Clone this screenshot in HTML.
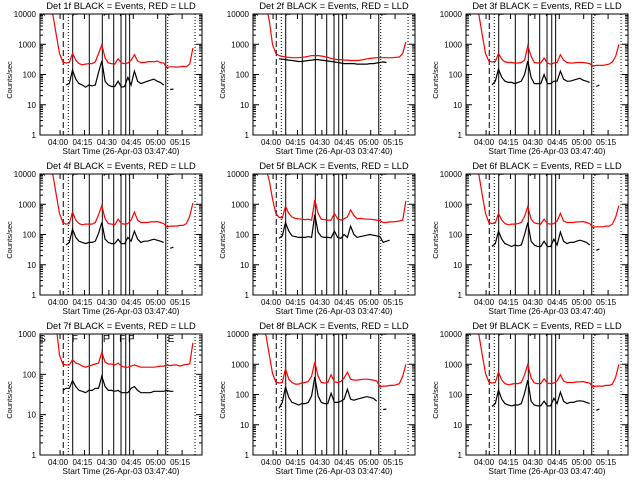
<!DOCTYPE html>
<html><head><meta charset="utf-8">
<style>
html,body{margin:0;padding:0;background:#fff;}
svg{display:block;font-family:"Liberation Sans",sans-serif;}
</style></head>
<body>
<svg id="chart" width="640" height="480" viewBox="0 0 640 480" xmlns="http://www.w3.org/2000/svg"><rect x="0" y="0" width="640" height="480" fill="#fff"/></svg>
<script>
// time samples in minutes after start (03:47:40)
const times = [0,2,4,6,8,10,12,14,16,18,20,22,24,26,28,30,32,34,36,38,40,42,44,46,48,50,52,54,56,58,60,62,64,66,68,70,72,74,76,78,80,82,84,86,88,90,92,94];
const detNames = ["1f","2f","3f","4f","5f","6f","7f","8f","9f"];
const xTickLabels = ["04:00","04:15","04:30","04:45","05:00","05:15"];
const xTickMinutes = [12.33,27.33,42.33,57.33,72.33,87.33];
const yTickLabels5 = ["1","10","100","1000","10000"];
const yTickLabels4 = ["1","10","100","1000"];
const dashedMarks = [14.3];
const dottedMarks = [17.4,78.5,95.3];
const solidMarks = [20.1,30.3,38.3,45.3,49.8,52.7,55.1,77.3];
const flagLetters = ["S","F","F","F","F","E"];
const flagMinutes = [1.5,21.5,40.5,50.5,56,80.5];
const N = null;
const red1 = [20000,20000,20000,15000,9000,2000,500,260,240,250,500,300,230,210,220,230,230,260,500,950,350,240,230,220,330,240,230,240,300,450,280,250,250,260,270,260,280,250,240,170,180,180,175,180,185,180,220,750];
const black1 = [N,N,N,N,N,N,N,N,45,50,140,70,50,45,38,45,42,45,120,280,60,45,40,40,60,38,40,80,45,130,60,50,55,60,65,70,60,55,45,N,32,33,N,N,N,N,N,N];
const red2 = [20000,20000,20000,20000,20000,6000,1000,500,420,400,380,370,360,360,360,370,380,400,420,420,420,410,390,370,340,320,310,310,300,300,290,290,290,300,310,330,340,350,360,360,360,360,360,360,370,380,500,1200];
const black2 = [N,N,N,N,N,N,N,N,330,320,310,300,290,280,270,270,280,290,300,310,310,300,290,280,270,260,250,240,230,230,230,230,220,220,220,220,230,230,240,250,260,250,N,N,N,N,N,N];
const red3 = [20000,20000,20000,15000,9000,2000,500,280,260,270,500,320,260,250,250,240,240,250,300,900,400,250,240,240,350,240,220,240,250,450,300,250,240,240,250,250,250,240,230,190,200,200,200,210,220,260,400,1000];
const black3 = [N,N,N,N,N,N,N,N,45,60,150,80,60,55,55,50,55,60,100,280,80,50,50,50,100,50,50,60,60,130,70,60,60,65,70,75,65,60,55,N,40,45,N,N,N,N,N,N];
const red4 = [20000,20000,20000,15000,9000,2000,500,250,220,230,550,300,230,210,220,220,220,250,450,900,330,230,220,210,320,230,220,230,300,550,300,250,250,250,260,260,270,250,230,180,190,190,190,200,200,230,400,1100];
const black4 = [N,N,N,N,N,N,N,N,45,55,150,80,60,55,50,55,55,60,110,250,70,55,50,50,70,50,50,80,60,130,70,55,60,60,65,70,65,60,55,N,35,38,N,N,N,N,N,N];
const red5 = [20000,20000,20000,20000,15000,6000,1500,500,370,350,850,500,380,340,330,320,310,320,300,1400,500,320,310,300,300,500,330,300,330,380,650,420,330,340,330,320,320,310,300,290,250,250,260,260,270,280,300,1300];
const black5 = [N,N,N,N,N,N,N,N,75,90,250,130,90,85,80,80,80,85,80,450,120,85,80,80,78,130,80,75,100,80,190,100,80,85,90,95,100,95,90,85,55,60,65,N,N,N,N,N];
const red6 = [20000,20000,20000,15000,9000,2000,500,250,230,240,500,300,230,210,220,220,230,250,400,850,320,240,230,220,320,230,220,230,280,500,280,250,250,250,260,260,270,250,230,170,180,180,180,190,190,220,380,900];
const black6 = [N,N,N,N,N,N,N,N,40,50,130,70,50,45,40,45,42,45,100,250,60,45,40,40,60,40,40,70,45,120,60,50,55,55,60,65,60,55,45,N,30,33,N,N,N,N,N,N];
const red7 = [20000,20000,20000,20000,20000,1500,300,180,170,170,230,190,180,160,150,160,170,180,190,350,200,180,180,170,190,160,150,150,160,170,160,150,150,150,150,150,155,160,160,170,165,170,170,160,170,175,180,600];
const black7 = [N,N,N,N,N,N,N,40,45,45,70,50,40,38,35,40,40,45,45,90,50,40,40,38,40,35,35,35,45,50,40,35,35,35,35,38,38,38,38,40,38,38,N,N,N,N,N,N];
const red8 = [20000,20000,20000,15000,9000,2000,500,260,240,250,700,320,250,220,220,240,250,270,400,1200,400,250,240,250,450,260,250,270,350,550,320,300,300,310,320,320,310,300,280,180,190,190,200,200,210,230,400,1000];
const black8 = [N,N,N,N,N,N,N,N,35,55,180,80,55,50,45,50,50,55,90,380,90,55,50,50,110,55,55,60,70,150,70,65,70,75,80,85,80,75,60,N,32,33,N,N,N,N,N,N];
const red9 = [20000,20000,20000,15000,9000,2000,500,260,240,250,550,300,230,210,220,230,230,250,450,1000,350,240,230,230,330,240,230,240,280,450,280,250,250,250,260,260,270,250,240,180,190,190,190,200,200,220,380,1000];
const black9 = [N,N,N,N,N,N,N,N,40,50,140,70,50,45,42,45,45,50,110,300,60,45,42,42,60,42,42,75,50,120,60,50,55,55,60,62,60,55,50,N,30,33,N,N,N,N,N,N];
const redSeries = [red1,red2,red3,red4,red5,red6,red7,red8,red9];
const blackSeries = [black1,black2,black3,black4,black5,black6,black7,black8,black9];

const NS = "http://www.w3.org/2000/svg";
const svg = document.getElementById("chart");
function mk(tag, parent, attrs){
  const e = document.createElementNS(NS, tag);
  for (const k in attrs) e.setAttribute(k, attrs[k]);
  parent.appendChild(e);
  return e;
}
const PX0 = 40, PX1 = 202, PY0 = 14, PY1 = 135;
const TMAX = (PX1 - PX0) / 1.627;

for (let p = 0; p < 9; p++) {
  const ox = (p % 3) * 213, oy = Math.floor(p / 3) * 160;
  const decades = (p === 6) ? 3 : 4;
  const ylabels = (p === 6) ? yTickLabels4 : yTickLabels5;
  const xs = t => ox + PX0 + (t / TMAX) * (PX1 - PX0);
  const ys = v => oy + PY1 - (Math.log10(v) / decades) * (PY1 - PY0);
  const g = mk("g", svg, {});
  
  
  const clipId = "clip" + p;
  const defs = mk("defs", g, {});
  const cp = mk("clipPath", defs, {id: clipId});
  mk("rect", cp, {x: ox + PX0, y: oy + PY0, width: PX1 - PX0, height: PY1 - PY0});

  const title = mk("text", g, {x: ox + 121, y: oy + 9, "text-anchor": "middle", "font-size": "9.3", fill: "#000"});
  title.textContent = "Det " + detNames[p] + " BLACK = Events, RED = LLD";
  
  

  const yt = mk("text", g, {x: 0, y: 0, "text-anchor": "middle", "font-size": "7.5", fill: "#000", transform: "translate(" + (ox + 12) + "," + (oy + 80) + ") rotate(-90)"});
  yt.textContent = "Counts/sec";
  
  

  const xt = mk("text", g, {x: ox + 121, y: oy + 154, "text-anchor": "middle", "font-size": "8.3", fill: "#000"});
  xt.textContent = "Start Time (26-Apr-03 03:47:40)";
  
  

  for (let d = 0; d <= decades; d++) {
    const y = ys(Math.pow(10, d));
    const lab = mk("text", g, {x: ox + 36, y: y + 3, "text-anchor": "end", "font-size": "8", fill: "#000"});
    lab.textContent = ylabels[d];
    
    
    const t1 = mk("line", g, {x1: ox + PX0, x2: ox + PX0 + 6, y1: y, y2: y, stroke: "#000", "stroke-width": 1});
    
    
    const t2 = mk("line", g, {x1: ox + PX1 - 6, x2: ox + PX1, y1: y, y2: y, stroke: "#000", "stroke-width": 1});
    
    
    if (d < decades) {
      for (let m = 2; m <= 9; m++) {
        const ym = ys(m * Math.pow(10, d));
        const mt = mk("line", g, {x1: ox + PX0, x2: ox + PX0 + 3, y1: ym, y2: ym, stroke: "#000", "stroke-width": 1});
        
        
        const mt2 = mk("line", g, {x1: ox + PX1 - 3, x2: ox + PX1, y1: ym, y2: ym, stroke: "#000", "stroke-width": 1});
        
        
      }
    }
  }
  for (let i = 0; i < xTickLabels.length; i++) {
    const x = xs(xTickMinutes[i]);
    const lab = mk("text", g, {x: x - 2, y: oy + 145, "text-anchor": "middle", "font-size": "8", fill: "#000"});
    lab.textContent = xTickLabels[i];
    
    
    const tk = mk("line", g, {x1: x, x2: x, y1: oy + PY1, y2: oy + PY1 - 5, stroke: "#000", "stroke-width": 1});
    
    
    const tk2 = mk("line", g, {x1: x, x2: x, y1: oy + PY0, y2: oy + PY0 + 5, stroke: "#000", "stroke-width": 1});
    
    
  }

  for (const m of solidMarks) {
    const l = mk("line", g, {x1: xs(m), x2: xs(m), y1: oy + PY0, y2: oy + PY1, stroke: "#000", "stroke-width": 1});
    
    
  }
  for (const m of dashedMarks) {
    const l = mk("line", g, {x1: xs(m), x2: xs(m), y1: oy + PY0, y2: oy + PY1, stroke: "#000", "stroke-width": 1, "stroke-dasharray": "6,3"});
    
    
  }
  for (const m of dottedMarks) {
    const l = mk("line", g, {x1: xs(m), x2: xs(m), y1: oy + PY0, y2: oy + PY1, stroke: "#000", "stroke-width": 1, "stroke-dasharray": "1,2"});
    
    
  }

  // flag letters at top of plot (clipped above in most panels)
  for (let i = 0; i < flagLetters.length; i++) {
    const fy = (p === 6) ? oy + 22 : oy + 21;
    const ft = mk("text", g, {x: xs(flagMinutes[i]), y: fy, "text-anchor": "middle", "font-size": "10", fill: "#000", "clip-path": (p === 6) ? "" : "url(#topclip" + p + ")"});
    ft.textContent = flagLetters[i];
    
    
  }
  if (p !== 6) {
    const tc = mk("clipPath", defs, {id: "topclip" + p});
    mk("rect", tc, {x: ox, y: oy + 11, width: 213, height: 5});
  }

  function drawSeries(vals, color, name) {
    let d = "", pen = false;
    for (let i = 0; i < times.length; i++) {
      const v = vals[i];
      if (v === null || v === undefined) { pen = false; continue; }
      d += (pen ? "L" : "M") + xs(times[i]).toFixed(1) + "," + ys(v).toFixed(1);
      pen = true;
    }
    const path = mk("path", g, {d: d, fill: "none", stroke: color, "stroke-width": 1.2, "clip-path": "url(#" + clipId + ")"});
    
    
  }
  drawSeries(redSeries[p], "#ff0000", "lld-series-red");
  drawSeries(blackSeries[p], "#000000", "events-series-black");

  const frame = mk("rect", g, {x: ox + PX0, y: oy + PY0, width: PX1 - PX0, height: PY1 - PY0, fill: "none", stroke: "#000", "stroke-width": 1});
  
  
}
</script>
</body></html>
